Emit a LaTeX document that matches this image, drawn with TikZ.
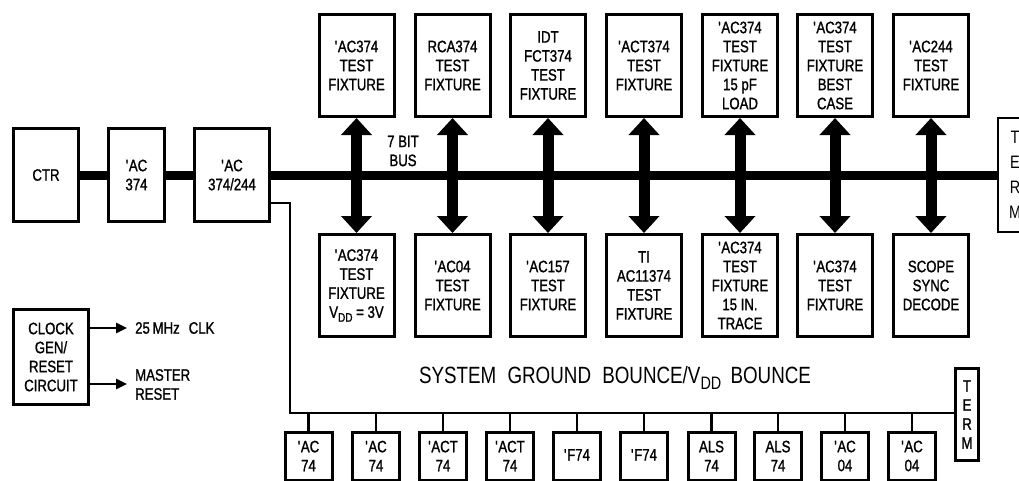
\documentclass[tikz,border=0pt]{standalone}
\usepackage{fontspec}
\setmainfont{Liberation Sans}[FakeStretch=0.8,FakeBold=1.2]
\newfontfamily\widefont{Liberation Sans}[FakeStretch=0.8]
\usetikzlibrary{arrows.meta}
\newcommand\aps{\textquotesingle}
\newcommand\fsbox{\fontsize{16.5}{19}\selectfont}
\newcommand\fsbig{\widefont\fontsize{23.5}{28}\selectfont}
\newcommand\fsterm{\widefont\fontsize{18}{25}\selectfont}
\begin{document}
\begin{tikzpicture}[x=1pt,y=-1pt,
  box/.style={draw,line width=3pt,fill=white,inner sep=0pt,align=center,font=\fsbox,
              minimum width=75pt,minimum height=102pt},
  lbox/.style={draw,line width=3pt,fill=white,inner sep=0pt,align=center,font=\fsbox,
              minimum height=93pt},
  sbox/.style={draw,line width=3pt,fill=white,inner sep=0pt,align=center,font=\fsbox,
              minimum width=47pt,minimum height=48pt},
  bus/.style={line width=9pt},
  busarrow/.style={line width=11pt,{Triangle[width=30pt,length=17pt]}-{Triangle[width=30pt,length=17pt]}},
  thinbus/.style={line width=2.5pt},
  stub/.style={line width=2.5pt},
  sarrow/.style={line width=2.5pt,-{Triangle[width=10pt,length=11pt]}},
  txt/.style={inner sep=0pt,align=center,font=\fsbox}]
\clip (0,0) rectangle (1019,480);

% left chain
\node[lbox,minimum width=65pt] (ctr) at (46,175) {CTR};
\node[lbox,minimum width=56pt] (ac1) at (136.5,175) {\aps AC\\374};
\node[lbox,minimum width=75pt] (ac2) at (232,175) {\aps AC\\374/244};
\node[draw,line width=2pt,inner sep=0pt,minimum width=34pt,minimum height=114pt,
      align=center,font=\fsterm] (termR) at (1015,175) {T\\E\\R\\M};

% bus
\draw[bus] (ctr.east) -- (ac1.west);
\draw[bus] (ac1.east) -- (ac2.west);
\draw[bus] (ac2.east) -- (termR.west);

% top fixtures
\node[box] (t1) at (356.5,65.5) {\aps AC374\\TEST\\FIXTURE};
\node[box] (t2) at (452.5,65.5) {RCA374\\TEST\\FIXTURE};
\node[box] (t3) at (548,65.5) {IDT\\FCT374\\TEST\\FIXTURE};
\node[box] (t4) at (644,65.5) {\aps ACT374\\TEST\\FIXTURE};
\node[box] (t5) at (740,65.5) {\aps AC374\\TEST\\FIXTURE\\15 pF\\LOAD};
\node[box] (t6) at (835,65.5) {\aps AC374\\TEST\\FIXTURE\\BEST\\CASE};
\node[box] (t7) at (931,65.5) {\aps AC244\\TEST\\FIXTURE};

% bottom fixtures
\node[box] (b1) at (356.5,285.5) {\aps AC374\\TEST\\FIXTURE\\V\raisebox{-0.45ex}{\fontsize{12.5}{14}\selectfont DD} = 3V};
\node[box] (b2) at (452.5,285.5) {\aps AC04\\TEST\\FIXTURE};
\node[box] (b3) at (548,285.5) {\aps AC157\\TEST\\FIXTURE};
\node[box] (b4) at (644,285.5) {TI\\AC11374\\TEST\\FIXTURE};
\node[box] (b5) at (740,285.5) {\aps AC374\\TEST\\FIXTURE\\15 IN.\\TRACE};
\node[box] (b6) at (835,285.5) {\aps AC374\\TEST\\FIXTURE};
\node[box] (b7) at (931,285.5) {SCOPE\\SYNC\\DECODE};

\foreach \i in {1,...,7} {\draw[busarrow] (t\i.south) -- (b\i.north);}

\node[txt] (buslbl) at (403,151) {7 BIT\\BUS};

% clock
\node[lbox,minimum width=75pt,minimum height=95pt] (clk) at (51,357) {CLOCK\\GEN/\\RESET\\CIRCUIT};
\coordinate (clkend) at (127,328);
\coordinate (rstend) at (127,384);
\draw[sarrow] (clk.east |- clkend) -- (clkend);
\draw[sarrow] (clk.east |- rstend) -- (rstend);
\node[txt,anchor=west] (clktxt) at (135,328) {25\,MHz\hspace{9pt}CLK};
\node[txt,anchor=west,align=left] (rsttxt) at (135,384.5) {MASTER\\RESET};

% system label
\node[inner sep=0pt,font=\fsbig] (sys) at (615,378) {SYSTEM\hspace{6pt} GROUND\hspace{6pt} BOUNCE/V\raisebox{-0.45ex}{\fontsize{18}{20}\selectfont DD}\hspace{4pt} BOUNCE};

% secondary bus
\node[draw,line width=3pt,inner sep=0pt,minimum width=23pt,minimum height=92pt,
      align=center,font=\fsbox] (term2) at (967,414.5) {T\\E\\R\\M};
\coordinate (drop) at (290,413);
\draw[thinbus] ([yshift=-28pt]ac2.east) -| (drop) -- (term2.west |- drop);

\node[sbox] (s1) at (308.5,456) {\aps AC\\74};
\node[sbox] (s2) at (376,456) {\aps AC\\74};
\node[sbox] (s3) at (443,456) {\aps ACT\\74};
\node[sbox] (s4) at (510,456) {\aps ACT\\74};
\node[sbox] (s5) at (577,456) {\mbox{}\\[-10pt]\aps F74};
\node[sbox] (s6) at (644,456) {\mbox{}\\[-10pt]\aps F74};
\node[sbox] (s7) at (711.5,456) {ALS\\74};
\node[sbox] (s8) at (778,456) {ALS\\74};
\node[sbox] (s9) at (845,456) {\aps AC\\04};
\node[sbox] (s10) at (912,456) {\aps AC\\04};
\foreach \i in {1,...,10} {\draw[stub] (s\i.north |- drop) -- (s\i.north);}
\end{tikzpicture}
\end{document}
